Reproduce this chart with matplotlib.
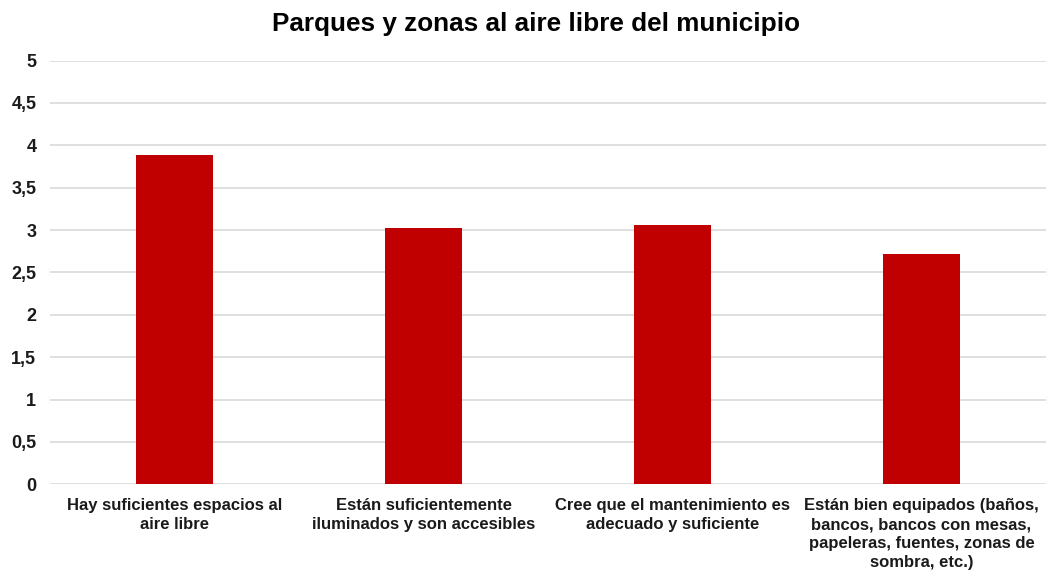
import matplotlib
matplotlib.use("Agg")
import matplotlib.pyplot as plt
from matplotlib.ticker import FuncFormatter, MultipleLocator

title = "Parques y zonas al aire libre del municipio"
categories = [
    "Hay suficientes espacios al\naire libre",
    "Están suficientemente\niluminados y son accesibles",
    "Cree que el mantenimiento es\nadecuado y suficiente",
    "Están bien equipados (baños,\nbancos, bancos con mesas,\npapeleras, fuentes, zonas de\nsombra, etc.)",
]
values = [3.89, 3.02, 3.06, 2.72]

plt.rcParams['font.family'] = ['Liberation Sans', 'DejaVu Sans']

fig = plt.figure(figsize=(10.46, 5.73), dpi=100)
ax = fig.add_axes([0.048, 0.1548, 0.952, 0.7394])

x = list(range(len(categories)))
ax.bar(x, values, width=0.31, color="#C00000", zorder=3)

ax.set_xlim(-0.5, len(categories) - 0.5)
ax.set_ylim(0, 5)
ax.yaxis.set_major_locator(MultipleLocator(0.5))
ax.yaxis.set_major_formatter(FuncFormatter(lambda v, p: f"{v:g}".replace(".", ",")))
ax.grid(axis="y", color="#d9d9d9", linewidth=1.2, zorder=0)
for s in ax.spines.values():
    s.set_visible(False)
ax.tick_params(axis="y", length=0, pad=10, labelsize=13)
ax.tick_params(axis="x", length=0, pad=10, labelsize=12)
ax.set_xticks(x)
ax.set_xticklabels(categories, fontweight="bold", color="#1a1a1a", linespacing=1.32)
for lab in ax.get_yticklabels():
    lab.set_fontweight("bold")
    lab.set_color("#1a1a1a")

fig.text(0.512, 0.958, title, ha="center", va="center", fontsize=18.8, fontweight="bold", color="#000000")

fig.savefig("out.png", dpi=100)
